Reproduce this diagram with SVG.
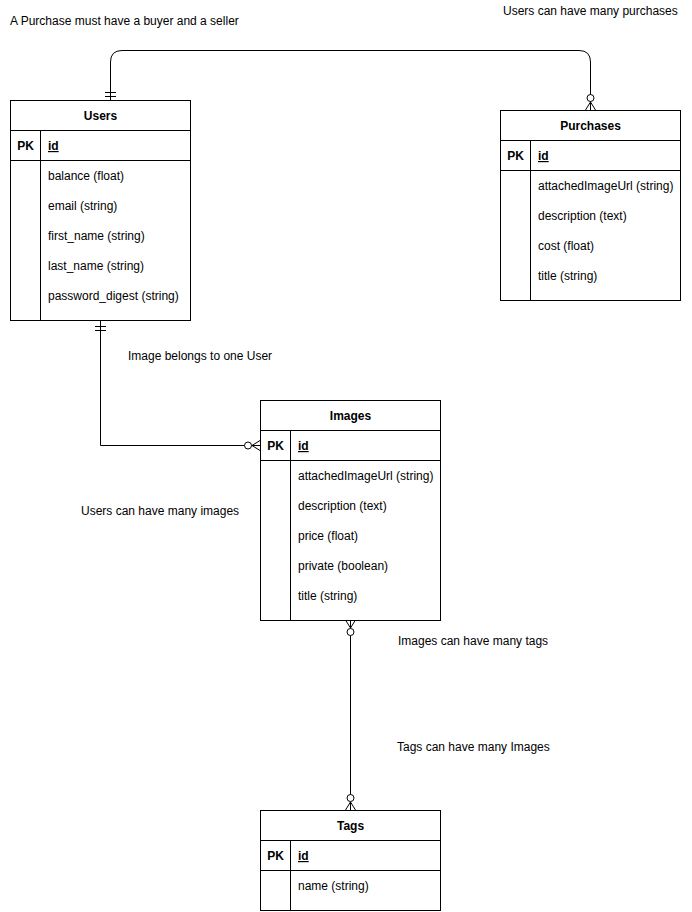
<svg xmlns="http://www.w3.org/2000/svg" width="692" height="912" viewBox="0 0 692 912">
  <style>
    text { font-family: "Liberation Sans", Arial, Helvetica, sans-serif; font-size: 12px; fill: #000; }
    .title { font-weight: bold; text-anchor: middle; }
    .pk { font-weight: bold; text-anchor: middle; }
    .key { font-weight: bold; text-decoration: underline; }
    .box { fill: #fff; stroke: #000; stroke-width: 1; }
    .ln { stroke: #000; stroke-width: 1; fill: none; }
    .edge { stroke: #000; stroke-width: 1; fill: none; }
    .end { stroke: #000; stroke-width: 1; fill: #fff; }
  </style>

  <rect width="692" height="912" fill="#fff"/>

  <!-- free labels -->
  <g id="labels">
    <text x="10" y="25">A Purchase must have a buyer and a seller</text>
    <text x="503" y="15">Users can have many purchases</text>
    <text x="128" y="360">Image belongs to one User</text>
    <text x="81" y="515">Users can have many images</text>
    <text x="398" y="645">Images can have many tags</text>
    <text x="397" y="751">Tags can have many Images</text>
  </g>

  <!-- relationships -->
  <g id="connectors">
    <!-- Users — Purchases -->
    <path class="edge" d="M110.5 100 V62 Q110.5 50.5 122 50.5 H579 Q590.5 50.5 590.5 62 V110"/>
    <path class="edge" d="M105 92.5 H116 M105 96.5 H116"/>
    <circle class="end" cx="590.5" cy="98" r="3.5"/>
    <path class="edge" d="M590.5 102 L585.5 110 M590.5 102 L595.5 110"/>

    <!-- Users — Images -->
    <path class="edge" d="M100.5 320 V445.5 H260"/>
    <path class="edge" d="M95 326.5 H106 M95 330.5 H106"/>
    <circle class="end" cx="248" cy="445.5" r="3.5"/>
    <path class="edge" d="M252 445.5 L260 440.5 M252 445.5 L260 450.5"/>

    <!-- Images — Tags -->
    <path class="edge" d="M350.5 620 V810"/>
    <path class="edge" d="M350.5 628 L345.5 620 M350.5 628 L355.5 620"/>
    <circle class="end" cx="350.5" cy="632" r="3.5"/>
    <circle class="end" cx="350.5" cy="798" r="3.5"/>
    <path class="edge" d="M350.5 802 L345.5 810 M350.5 802 L355.5 810"/>
  </g>

  <!-- Users table -->
  <g id="users">
    <rect class="box" x="10.5" y="100.5" width="180" height="220"/>
    <path class="ln" d="M10.5 130.5 H190.5 M10.5 160.5 H190.5 M40.5 130.5 V320.5"/>
    <text class="title" x="100.5" y="120">Users</text>
    <text class="pk" x="25.5" y="150">PK</text>
    <text class="key" x="48" y="150">id</text>
    <text x="48" y="180">balance (float)</text>
    <text x="48" y="210">email (string)</text>
    <text x="48" y="240">first_name (string)</text>
    <text x="48" y="270">last_name (string)</text>
    <text x="48" y="300">password_digest (string)</text>
  </g>

  <!-- Purchases table -->
  <g id="purchases">
    <rect class="box" x="500.5" y="110.5" width="180" height="190"/>
    <path class="ln" d="M500.5 140.5 H680.5 M500.5 170.5 H680.5 M530.5 140.5 V300.5"/>
    <text class="title" x="590.5" y="130">Purchases</text>
    <text class="pk" x="515.5" y="160">PK</text>
    <text class="key" x="538" y="160">id</text>
    <text x="538" y="190">attachedImageUrl (string)</text>
    <text x="538" y="220">description (text)</text>
    <text x="538" y="250">cost (float)</text>
    <text x="538" y="280">title (string)</text>
  </g>

  <!-- Images table -->
  <g id="images">
    <rect class="box" x="260.5" y="400.5" width="180" height="220"/>
    <path class="ln" d="M260.5 430.5 H440.5 M260.5 460.5 H440.5 M290.5 430.5 V620.5"/>
    <text class="title" x="350.5" y="420">Images</text>
    <text class="pk" x="275.5" y="450">PK</text>
    <text class="key" x="298" y="450">id</text>
    <text x="298" y="480">attachedImageUrl (string)</text>
    <text x="298" y="510">description (text)</text>
    <text x="298" y="540">price (float)</text>
    <text x="298" y="570">private (boolean)</text>
    <text x="298" y="600">title (string)</text>
  </g>

  <!-- Tags table -->
  <g id="tags">
    <rect class="box" x="260.5" y="810.5" width="180" height="100"/>
    <path class="ln" d="M260.5 840.5 H440.5 M260.5 870.5 H440.5 M290.5 840.5 V910.5"/>
    <text class="title" x="350.5" y="830">Tags</text>
    <text class="pk" x="275.5" y="860">PK</text>
    <text class="key" x="298" y="860">id</text>
    <text x="298" y="890">name (string)</text>
  </g>
</svg>
